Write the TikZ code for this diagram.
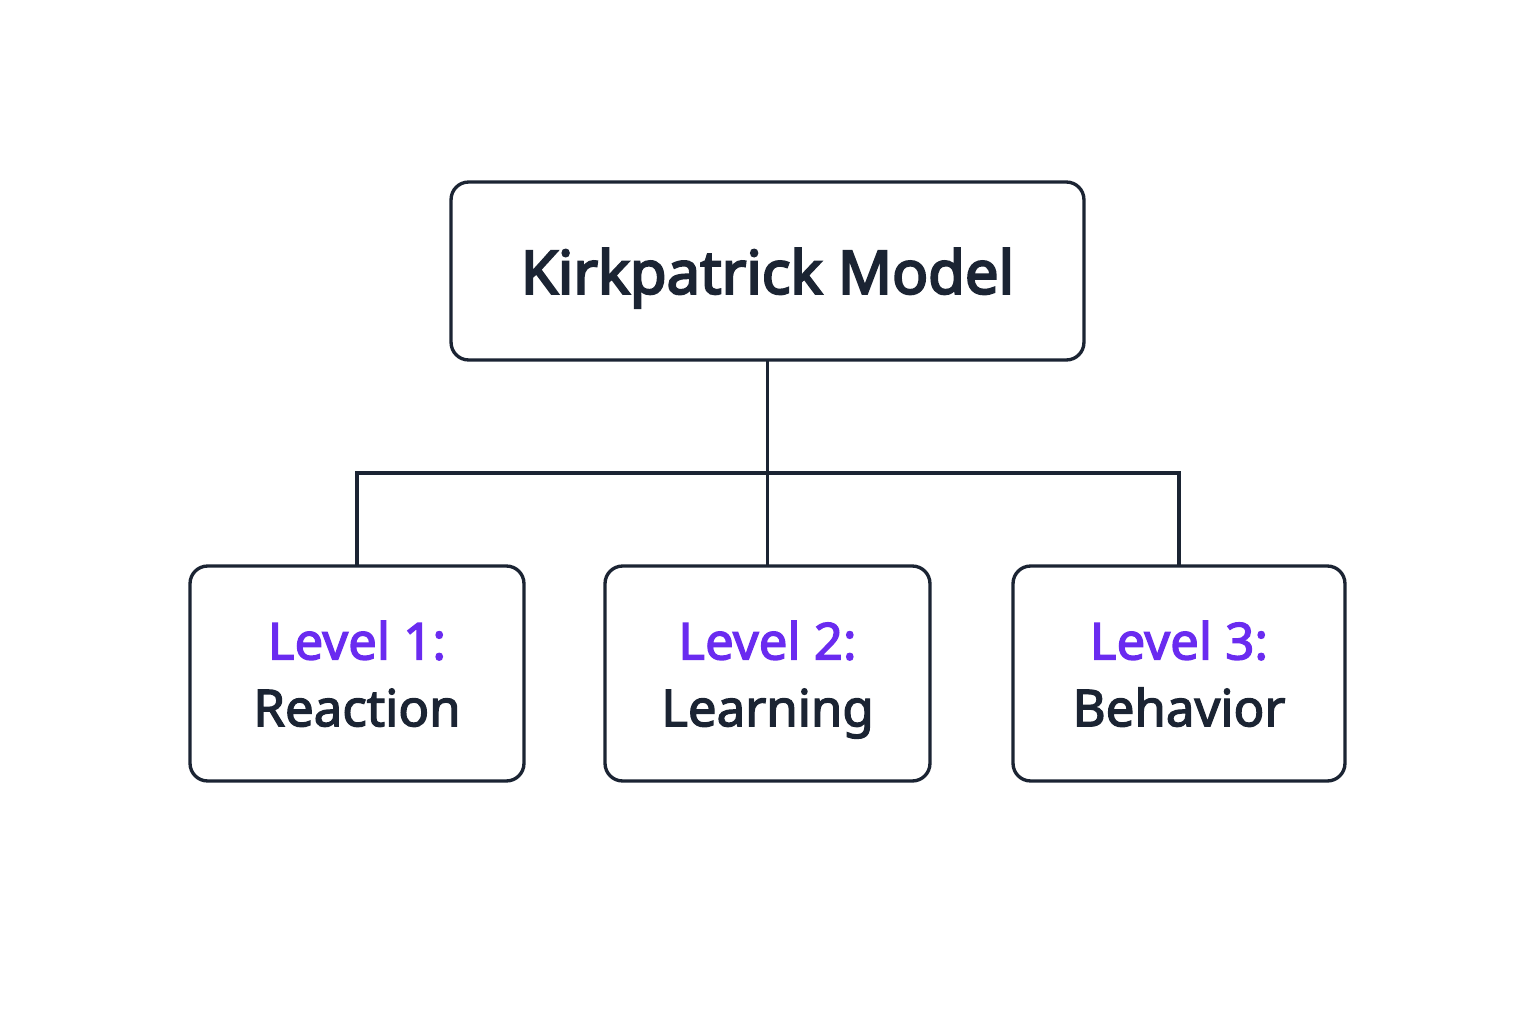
\documentclass[tikz,border=0pt]{standalone}
\usepackage{fontspec}
\setmainfont{Noto Sans}[RawFeature={embolden=2.6}]
\newfontfamily\titlefont{Noto Sans}[RawFeature={embolden=3.6}]
\usetikzlibrary{positioning}
\definecolor{ink}{HTML}{1B2433}
\definecolor{violet}{HTML}{6A2BF0}
\newcommand{\nodepth}[1]{\raisebox{0pt}[\height][0pt]{#1}}
\begin{document}
\begin{tikzpicture}[x=0.02cm,y=-0.02cm,
  box/.style={draw=ink,line width=1.9pt,rounded corners=10pt,fill=white,outer sep=0pt,inner sep=0pt,align=center,text=ink},
  lvl/.style={box,minimum height=4.3cm,font=\fontsize{29}{38}\selectfont},
  conn/.style={draw=ink,line width=1.8pt}]
\useasboundingbox (0,0) rectangle (1536,1024);
\fill[white] (0,0) rectangle (1536,1024);
\node[box,minimum width=12.66cm,minimum height=3.56cm,font=\titlefont\fontsize{34}{44}\selectfont] (top) at (767.5,271) {\nodepth{Kirkpatrick Model}};
\node[lvl,minimum width=6.68cm] (b1) at (357,673.5) {\textcolor{violet}{Level 1:}\\\nodepth{Reaction}};
\node[lvl,minimum width=6.5cm] (b2) at (767.5,673.5) {\textcolor{violet}{Level 2:}\\\nodepth{Learning}};
\node[lvl,minimum width=6.64cm] (b3) at (1179,673.5) {\textcolor{violet}{Level 3:}\\\nodepth{Behavior}};
\coordinate (j) at (767.5,473);
\draw[conn] (top.south) -- (j);
\draw[conn] (b1.north) |- (j) -| (b3.north);
\draw[conn] (j) -- (b2.north);
\end{tikzpicture}
\end{document}
